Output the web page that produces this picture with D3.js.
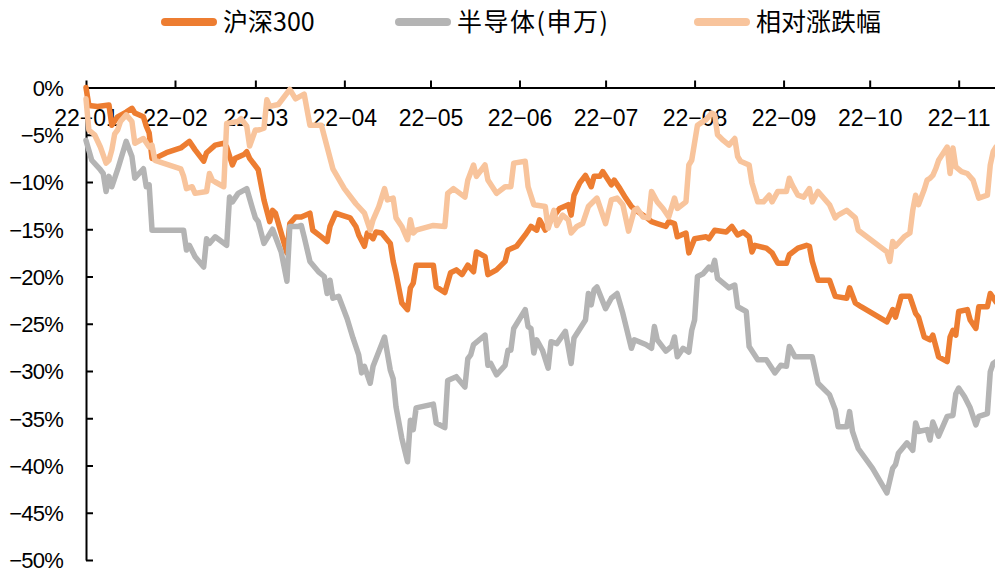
<!DOCTYPE html>
<html><head><meta charset="utf-8">
<script src="https://cdn.jsdelivr.net/npm/d3@7"></script>
<style>body{margin:0;background:#fff} svg{display:block}</style>
</head><body><svg id="c" width="995" height="570"></svg>
<script>
const seriesNames = ["沪深300", "半导体(申万)", "相对涨跌幅"];
const seriesColors = ["#ED7D31", "#B4B4B4", "#F8C49C"];

const hs300Dates = ["01-01","01-02","01-05","01-09","01-10","01-12","01-15","01-17","01-18","01-21","01-22","01-23","01-24","01-25","01-29",
"02-03","02-06","02-08","02-11","02-12","02-15","02-18","02-19","02-21","02-22","02-25","02-26","02-27",
"03-02","03-04","03-06","03-07","03-08","03-12","03-13","03-15","03-17","03-20","03-21","03-24","03-26","03-27","03-29","03-31",
"04-03","04-05","04-06","04-08","04-09","04-11","04-12","04-14","04-17","04-18","04-19","04-21","04-23","04-24","04-25","04-26",
"05-02","05-03","05-06","05-08","05-10","05-12","05-14","05-16","05-17","05-20","05-21","05-24","05-27","05-28","05-31",
"06-03","06-05","06-07","06-08","06-10","06-12","06-15","06-18","06-19","06-20","06-22","06-24","06-26","06-27","06-29","06-30",
"07-03","07-04","07-06","07-08","07-10","07-12","07-15","07-17","07-19","07-22","07-23","07-25","07-26","07-29","07-30",
"08-01","08-05","08-06","08-08","08-12","08-14","08-16","08-18","08-20","08-21","08-22","08-26","08-28","08-30",
"09-02","09-03","09-06","09-09","09-10","09-11","09-13","09-17","09-19","09-23","09-24","09-26","09-28",
"10-07","10-09","10-10","10-12","10-15","10-17","10-18","10-20","10-22","10-23","10-25","10-28","10-29","10-30","10-31",
"11-01","11-04","11-05","11-07","11-08","11-11","11-12","11-14"];
const hs300Values = [0,-1.9,-2.0,-1.85,-4.0,-3.1,-2.6,-2.2,-2.7,-3.1,-4.1,-4.8,-7.5,-7.5,-6.9,
-6.4,-5.7,-6.6,-7.8,-6.9,-6.1,-5.9,-6.3,-8.2,-7.5,-7.1,-6.8,-7.5,
-8.7,-11.9,-14.2,-13.0,-13.3,-17.5,-14.4,-13.7,-13.7,-13.3,-15.1,-15.8,-16.3,-14.7,-13.3,-13.5,
-13.8,-14.7,-15.6,-16.8,-15.4,-16.0,-15.3,-15.4,-16.5,-18.4,-19.7,-22.8,-23.5,-21.2,-20.7,-18.8,
-18.8,-21.1,-21.7,-19.6,-19.3,-19.8,-18.8,-19.5,-17.4,-17.9,-19.8,-19.3,-18.4,-17.2,-16.8,
-15.6,-14.7,-15.1,-14.0,-15.1,-14.0,-12.8,-12.4,-13.5,-11.4,-10.1,-9.3,-10.5,-9.4,-9.4,-8.9,
-10.3,-9.8,-10.7,-11.7,-12.6,-13.1,-13.7,-14.2,-14.4,-14.7,-14.2,-14.4,-15.8,-15.4,-17.5,
-16.0,-15.8,-16.0,-15.1,-15.3,-14.7,-15.6,-15.3,-15.8,-17.4,-16.7,-17.0,-17.5,-18.6,
-18.6,-17.7,-17.0,-16.7,-16.8,-18.4,-20.4,-20.4,-22.1,-22.3,-21.2,-22.8,-23.2,
-24.8,-23.5,-24.3,-22.1,-22.1,-23.9,-24.3,-26.4,-26.7,-26.2,-28.5,-29.0,-26.4,-25.7,-26.2,
-23.7,-23.5,-24.6,-25.5,-23.2,-23.2,-21.8,-22.7];

const semiDates = ["01-01","01-03","01-06","01-07","01-08","01-09","01-10","01-12","01-15","01-17","01-18","01-21","01-22","01-23","01-24",
"02-04","02-05","02-06","02-08","02-11","02-12","02-13","02-15","02-19","02-20","02-21","02-23","02-26","02-28",
"03-01","03-02","03-04","03-07","03-10","03-12","03-13","03-16","03-17","03-18","03-20","03-23","03-25","03-26","03-27","03-28","03-30",
"04-02","04-04","04-06","04-07","04-08","04-10","04-11","04-15","04-17","04-18","04-19","04-21","04-23","04-24","04-25","04-26",
"05-02","05-03","05-06","05-07","05-10","05-13","05-14","05-15","05-16","05-20","05-21","05-22","05-24","05-27","05-28","05-29","05-30",
"06-03","06-04","06-05","06-06","06-07","06-09","06-11","06-12","06-14","06-17","06-19","06-20","06-24","06-25","06-26","06-27","06-28",
"07-01","07-03","07-05","07-07","07-10","07-11","07-15","07-17","07-18","07-19","07-22","07-24","07-25","07-26","07-28","07-30","07-31",
"08-01","08-02","08-04","08-06","08-07","08-08","08-09","08-11","08-13","08-15","08-16","08-19","08-20","08-23","08-26","08-29","08-31",
"09-02","09-03","09-05","09-11","09-13","09-17","09-19","09-20","09-23","09-24","09-25","09-27",
"10-02","10-07","10-09","10-10","10-11","10-14","10-16","10-17","10-18","10-21","10-22","10-23","10-25","10-28","10-30","10-31",
"11-01","11-03","11-05","11-07","11-08","11-11","11-12","11-13","11-14"];
const semiValues = [-5.6,-7.7,-8.7,-9.1,-11.0,-9.4,-10.5,-8.7,-5.7,-7.3,-9.6,-8.6,-10.5,-10.3,-15.1,
-15.1,-17.2,-16.7,-17.9,-19.0,-16.0,-16.5,-15.8,-16.7,-11.6,-12.1,-11.2,-10.7,-12.8,
-13.8,-14.2,-16.5,-15.0,-17.4,-20.5,-14.7,-14.7,-14.6,-15.8,-18.4,-19.5,-20.0,-21.8,-20.4,-22.3,-22.1,
-24.5,-26.5,-28.3,-30.2,-29.5,-31.3,-29.5,-26.4,-29.9,-30.8,-33.8,-37.1,-39.6,-35.2,-36.2,-33.9,
-33.5,-35.5,-36.0,-31.0,-30.6,-31.7,-28.7,-28.3,-27.2,-26.2,-29.4,-29.2,-30.4,-29.4,-27.8,-27.8,-25.5,
-23.5,-25.3,-25.5,-28.1,-26.7,-27.8,-29.7,-26.9,-27.1,-25.8,-29.2,-26.5,-24.6,-21.8,-23.0,-21.4,-21.1,
-23.4,-22.3,-21.8,-23.9,-27.6,-26.7,-27.2,-27.6,-25.3,-26.7,-27.9,-27.4,-26.4,-28.5,-27.6,-28.0,-25.7,
-24.6,-20.0,-19.7,-19.0,-19.3,-18.3,-20.2,-20.7,-21.2,-20.9,-23.2,-23.7,-27.4,-28.8,-28.8,-30.2,-29.4,
-29.5,-27.4,-28.5,-28.5,-31.3,-32.5,-34.1,-35.9,-35.9,-34.3,-36.4,-38.2,
-40.3,-42.9,-40.3,-39.9,-38.7,-37.6,-38.4,-35.5,-36.4,-36.2,-37.3,-35.4,-36.9,-34.8,-34.7,-32.4,
-31.8,-32.7,-33.9,-35.7,-34.8,-34.5,-30.1,-29.2,-29.0];

const relDates = ["01-01","01-02","01-04","01-06","01-08","01-09","01-10","01-11","01-12","01-13","01-15","01-17","01-18","01-21","01-23","01-24","01-25",
"02-03","02-04","02-05","02-07","02-08","02-12","02-13","02-14","02-15","02-18","02-19","02-23","02-24","02-26","02-27",
"03-01","03-02","03-04","03-05","03-06","03-09","03-13","03-15","03-18","03-20","03-24","03-28",
"04-01","04-05","04-08","04-10","04-11","04-13","04-15","04-16","04-18","04-19","04-21","04-23","04-24","04-25","04-26",
"05-02","05-06","05-07","05-09","05-13","05-14","05-16","05-17","05-20","05-21","05-24","05-27","05-29","05-30",
"06-03","06-04","06-06","06-10","06-11","06-13","06-14","06-16","06-18","06-19","06-21","06-23","06-25","06-28","06-30",
"07-01","07-03","07-05","07-07","07-09","07-11","07-12","07-14","07-16","07-17","07-19","07-21","07-23","07-25","07-26","07-29","07-30","07-31",
"08-02","08-03","08-05","08-07","08-08","08-09","08-11","08-13","08-15","08-16","08-17","08-20","08-21","08-23","08-25","08-27","08-28","08-30",
"09-02","09-03","09-04","09-06","09-08","09-10","09-11","09-13","09-17","09-19","09-20","09-23","09-26","09-27",
"10-07","10-08","10-09","10-10","10-13","10-15","10-16","10-17","10-18","10-20","10-21","10-22","10-23","10-24","10-25","10-28","10-29","10-30","10-31",
"11-02","11-04","11-06","11-08","11-11","11-12","11-13","11-14"];
const relValues = [-1.2,-4.5,-5.0,-6.3,-8.0,-7.7,-6.6,-4.9,-4.5,-3.6,-2.9,-3.6,-5.9,-5.4,-6.3,-6.1,-7.7,
-8.6,-9.4,-10.7,-10.5,-11.2,-11.0,-9.1,-9.8,-10.0,-10.5,-3.8,-3.6,-3.3,-4.1,-6.2,
-4.5,-4.5,-4.3,-1.3,-2.0,-1.8,-0.2,-1.2,-0.7,-4.0,-4.0,-8.6,
-10.7,-12.3,-13.3,-15.1,-14.0,-12.6,-10.7,-11.9,-11.7,-13.8,-14.7,-16.1,-14.0,-15.4,-15.1,
-14.6,-14.7,-11.2,-10.7,-11.6,-9.8,-8.2,-9.4,-8.2,-9.8,-11.2,-10.5,-10.5,-8.0,
-7.8,-10.5,-12.4,-12.6,-14.9,-13.0,-14.6,-13.5,-14.0,-15.4,-14.7,-14.4,-12.6,-11.7,-13.5,
-14.4,-11.9,-11.7,-12.4,-15.2,-13.0,-12.8,-13.7,-13.8,-11.0,-12.1,-12.8,-13.7,-11.7,-12.8,-12.1,-8.2,-7.7,
-4.0,-3.8,-3.4,-2.7,-2.9,-5.0,-5.6,-6.1,-5.4,-7.3,-7.8,-8.2,-10.1,-12.1,-12.1,-11.4,-12.1,-11.0,
-11.0,-9.6,-10.3,-11.4,-11.6,-10.7,-12.1,-11.0,-12.4,-13.8,-13.5,-13.0,-13.8,-15.1,
-17.4,-18.4,-16.3,-16.8,-15.8,-15.4,-13.0,-11.4,-12.4,-10.8,-9.8,-9.6,-9.3,-8.6,-7.7,-6.3,-9.1,-6.4,-8.4,
-8.9,-9.1,-9.8,-11.7,-11.4,-8.2,-6.8,-6.3];

const xTickDates = ["01-01","02-01","03-01","04-01","05-01","06-01","07-01","08-01","09-01","10-01","11-01"];
const xTickLabels = ["22\u221201","22\u221202","22\u221203","22\u221204","22\u221205","22\u221206","22\u221207","22\u221208","22\u221209","22\u221210","22\u221211"];
const yTickValues = [0,-5,-10,-15,-20,-25,-30,-35,-40,-45,-50];

const parse = d3.timeParse("%Y-%m-%d");
const toDate = s => parse("2022-" + s);

const svg = d3.select("#c");
const x = d3.scaleTime().domain([toDate("01-01"), toDate("11-14")]).range([86, 996]);
const y = d3.scaleLinear().domain([-50, 0]).range([560, 87.5]);

const axisFont = "'Liberation Sans', Arial, Helvetica, sans-serif";

// Y axis
const yAxis = svg.append("g").attr("transform", "translate(86,0)")
  .call(d3.axisLeft(y).tickValues(yTickValues).tickSizeInner(-7).tickSizeOuter(0).tickPadding(23)
    .tickFormat(v => (v < 0 ? "\u2212" + Math.abs(v) : v) + "%"));
yAxis.select(".domain").attr("stroke", "#000").attr("stroke-width", 2);
yAxis.selectAll(".tick line").attr("stroke", "#000").attr("stroke-width", 2);
yAxis.selectAll("text").attr("font-family", axisFont).attr("font-size", 22)
  .attr("letter-spacing", -0.8).attr("fill", "#000").attr("dy", "0.36em");

// X axis (at 0%)
const xAxis = svg.append("g").attr("transform", `translate(0,${y(0)})`)
  .call(d3.axisTop(x).tickValues(xTickDates.map(toDate)).tickSizeInner(7).tickSizeOuter(0)
    .tickFormat((d, i) => xTickLabels[i]));
xAxis.select(".domain").attr("stroke", "#000").attr("stroke-width", 2);
xAxis.selectAll(".tick line").attr("stroke", "#000").attr("stroke-width", 2);
xAxis.selectAll("text").attr("font-family", axisFont).attr("font-size", 23)
  .attr("fill", "#000").attr("y", 38).attr("dy", 0);

// Lines
const series = [
  {dates: hs300Dates, values: hs300Values},
  {dates: semiDates, values: semiValues},
  {dates: relDates, values: relValues}
];
const line = d3.line().x(d => x(d.date)).y(d => y(d.value));
series.forEach((s, i) => {
  const pts = s.dates.map((d, j) => ({date: toDate(d), value: s.values[j]}));
  svg.append("path").datum(pts).attr("d", line)
    .attr("fill", "none").attr("stroke", seriesColors[i]).attr("stroke-width", 5.5)
    .attr("stroke-linejoin", "round").attr("stroke-linecap", "round");
});

// Legend
const legendX = [161, 395, 694];
const lg = svg.append("g");
seriesNames.forEach((n, i) => {
  lg.append("line").attr("x1", legendX[i] + 4).attr("x2", legendX[i] + 52)
    .attr("y1", 22).attr("y2", 22).attr("stroke", seriesColors[i])
    .attr("stroke-width", 8).attr("stroke-linecap", "round");
  lg.append("text").attr("x", legendX[i] + 62).attr("y", 22).attr("dy", "0.36em")
    .attr("font-family", "'Noto Sans CJK SC', sans-serif").attr("font-size", 25)
    .attr("letter-spacing", i === 1 ? 1.5 : 0)
    .attr("fill", "#000").text(n);
});
</script></body></html>
